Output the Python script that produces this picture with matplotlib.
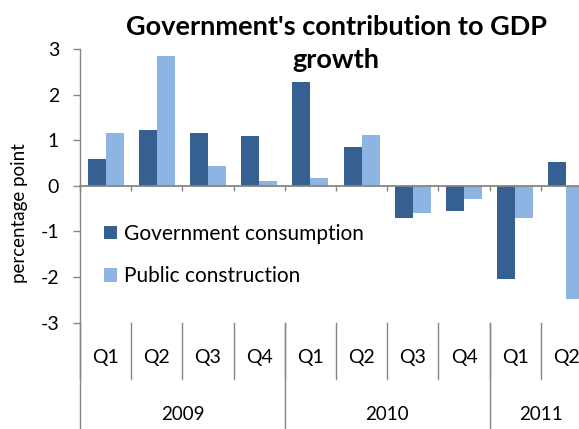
import matplotlib
matplotlib.use("Agg")
import matplotlib.pyplot as plt
import matplotlib.transforms as mtransforms
import numpy as np

# Data
quarters = ["Q1", "Q2", "Q3", "Q4", "Q1", "Q2", "Q3", "Q4", "Q1", "Q2"]
years = ["2009", "2010", "2011"]
year_spans = [4, 4, 2]
gov_consumption = [0.59, 1.23, 1.15, 1.09, 2.27, 0.855, -0.695, -0.56, -2.04, 0.52]
public_construction = [1.15, 2.85, 0.445, 0.11, 0.18, 1.125, -0.59, -0.285, -0.695, -2.47]
series_names = ["Government consumption", "Public construction"]

DARK = "#376092"
LIGHT = "#8EB4E3"
AXIS = "#868686"
FONT = "Lato"

plt.rcParams["font.family"] = [FONT, "DejaVu Sans"]

W, H = 579, 429
fig = plt.figure(figsize=(W / 100, H / 100), dpi=100)

# plot area in pixel terms (extends past the right edge)
left_px, right_px, top_px, bottom_px = 80, 592, 49, 322.7
ax = fig.add_axes([left_px / W, 1 - bottom_px / H,
                   (right_px - left_px) / W, (bottom_px - top_px) / H])

n = len(quarters)
x = np.arange(n)
bw = 0.35
ax.bar(x - bw / 2, gov_consumption, width=bw, color=DARK, label=series_names[0], zorder=2)
ax.bar(x + bw / 2, public_construction, width=bw, color=LIGHT, label=series_names[1], zorder=2)

ax.set_xlim(-0.5, n - 0.5)
ax.set_ylim(-3, 3)
ax.set_yticks(range(-3, 4))
ax.set_yticklabels([str(v) for v in range(-3, 4)])

for s in ["top", "right"]:
    ax.spines[s].set_visible(False)
ax.spines["bottom"].set_position(("data", 0))
ax.spines["bottom"].set_color(AXIS)
ax.spines["left"].set_color(AXIS)
ax.spines["bottom"].set_linewidth(1.3)
ax.spines["left"].set_linewidth(1.0)

ax.set_xticks(np.arange(-0.5, n, 1.0))
ax.set_xticklabels([])
ax.tick_params(axis="x", direction="out", length=3.6, color=AXIS, width=1.0)
ax.tick_params(axis="y", direction="out", length=5, color=AXIS, width=1.0,
               labelsize=14, pad=10)

# multi-level category labels below the plot area
trans = mtransforms.blended_transform_factory(ax.transData, fig.transFigure)
y_axes_bottom = 1 - bottom_px / H
y_q_end = 1 - 379 / H
y_q_text = 1 - 357.7 / H
y_year_text = 1 - 414.3 / H

for i in range(n + 1):
    xb = i - 0.5
    ax.plot([xb, xb], [y_axes_bottom, y_q_end], transform=trans, color=AXIS,
            lw=1.0, clip_on=False)
for i, q in enumerate(quarters):
    fig.text(i, y_q_text, q, transform=trans, fontsize=14, ha="center", va="center")

bounds = [0]
for span in year_spans:
    bounds.append(bounds[-1] + span)
for b in bounds:
    xb = b - 0.5
    ax.plot([xb, xb], [y_axes_bottom, 0], transform=trans, color=AXIS,
            lw=1.0, clip_on=False)
for yr, a, b in zip(years, bounds[:-1], bounds[1:]):
    fig.text((a + b - 1) / 2, y_year_text, yr, transform=trans, fontsize=13.5,
             ha="center", va="center")

# title and axis label
fig.text(336 / W, 1 - 35 / H, "Government's contribution to GDP",
         ha="center", va="baseline", fontsize=19.5, fontweight="bold")
fig.text(336 / W, 1 - 68 / H, "growth",
         ha="center", va="baseline", fontsize=19.5, fontweight="bold")
fig.text(20 / W, 1 - 213 / H, "percentage point", rotation=90,
         ha="center", va="center", fontsize=13.5)

fig.legend(loc="center left", bbox_to_anchor=(104 / W, 1 - 255 / H),
           frameon=False, fontsize=15, handlelength=0.62, handleheight=0.62,
           handletextpad=0.34, labelspacing=1.07, borderpad=0, borderaxespad=0)

fig.savefig("out.png", dpi=100)
